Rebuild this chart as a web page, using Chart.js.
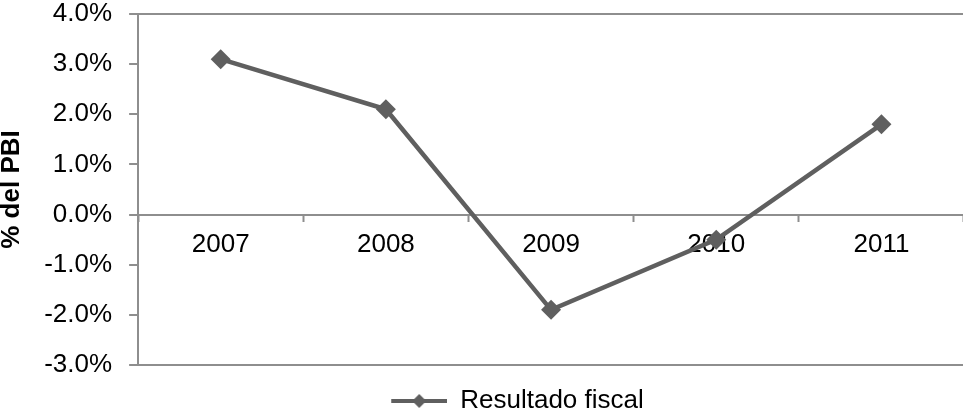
<!DOCTYPE html>
<html>
<head>
<script src="https://cdn.jsdelivr.net/npm/chart.js"></script>
<style> body { margin: 0; background: white; overflow: hidden; } #wrap { width: 974px; height: 414px; } </style>
</head>
<body>
<div id="wrap"><canvas id="myChart"></canvas></div>
<script>
    const years = ['2007', '2008', '2009', '2010', '2011'];
    const resultadoFiscal = [3.1, 2.1, -1.9, -0.5, 1.8];
    const yMin = -3, yMax = 4;
    const seriesName = 'Resultado fiscal';
    const yTitle = '% del PBI';

    const lineColor = '#5f5f5f';
    const axisColor = '#8e8e8e';
    const font = "'Liberation Sans', Arial, sans-serif";
    const fs = 26;

    // legend marker: short line with a diamond, with empty room on its left
    // so the whole legend item sits a bit right of centre like the original
    const gap = 65;
    const legendMark = document.createElement('canvas');
    legendMark.width = gap + 56; legendMark.height = 16;
    const lc = legendMark.getContext('2d');
    lc.fillStyle = lineColor;
    lc.fillRect(gap, 6, 56, 4);
    lc.beginPath();
    lc.moveTo(gap + 28, 1); lc.lineTo(gap + 35, 8); lc.lineTo(gap + 28, 15); lc.lineTo(gap + 21, 8);
    lc.closePath(); lc.fill();

    const ctx = document.getElementById('myChart').getContext('2d');
    new Chart(ctx, {
        type: 'line',
        data: {
            labels: years,
            datasets: [{
                label: seriesName,
                data: resultadoFiscal,
                borderColor: lineColor,
                backgroundColor: lineColor,
                borderWidth: 4.5,
                tension: 0,
                pointStyle: 'rectRot',
                pointRadius: 10,
                pointBorderWidth: 0,
                pointBackgroundColor: lineColor
            }]
        },
        options: {
            responsive: true,
            maintainAspectRatio: false,
            animation: false,
            layout: { padding: { top: 14, right: 0, left: -4, bottom: -10 } },
            plugins: {
                tooltip: { enabled: false },
                legend: {
                    position: 'bottom',
                    labels: {
                        usePointStyle: true,
                        pointStyle: legendMark,
                        pointStyleWidth: gap + 56,
                        padding: 23,
                        color: '#000',
                        font: { family: font, size: fs }
                    }
                }
            },
            scales: {
                x: {
                    position: { y: 0 },
                    offset: true,
                    afterFit: s => { s.paddingLeft = 0; s.paddingRight = 0; },
                    grid: {
                        offset: true,
                        drawOnChartArea: false,
                        tickLength: 6,
                        tickColor: axisColor,
                        tickWidth: 2
                    },
                    border: { color: axisColor, width: 2 },
                    ticks: { color: '#000', padding: 9, font: { family: font, size: fs } }
                },
                y: {
                    min: yMin, max: yMax,
                    afterFit: s => { s.paddingTop = 0; s.paddingBottom = 0; },
                    grid: {
                        color: c => (c.tick && (c.tick.value === yMin || c.tick.value === yMax)) ? axisColor : 'rgba(0,0,0,0)',
                        lineWidth: 2,
                        tickLength: 9,
                        tickColor: axisColor,
                        tickWidth: 2
                    },
                    border: { color: axisColor, width: 2 },
                    title: { display: true, text: yTitle, color: '#000', padding: 0, font: { family: font, size: fs, weight: 'bold' } },
                    ticks: {
                        stepSize: 1,
                        color: '#000',
                        padding: 17,
                        font: { family: font, size: fs },
                        callback: v => v.toFixed(1) + '%'
                    }
                }
            }
        }
    });
</script>
</body>
</html>
